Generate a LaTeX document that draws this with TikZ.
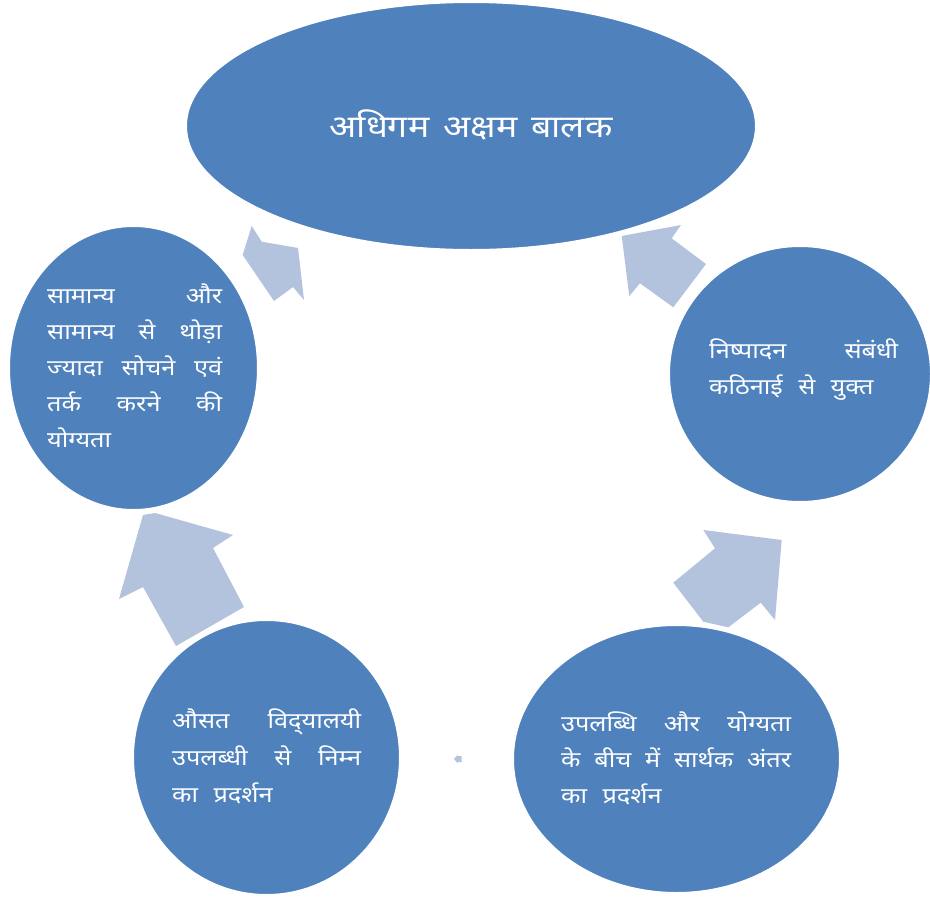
\documentclass[tikz,border=0pt]{standalone}
\usepackage{fontspec}
\newfontfamily\dev[Script=Devanagari, FakeStretch=1.15]{Noto Sans}
\usetikzlibrary{shapes.geometric}
\definecolor{bluefill}{HTML}{4F81BD}
\definecolor{arrowfill}{HTML}{B3C2DD}
\tikzset{
  blob/.style={ellipse, fill=bluefill, draw=white, line width=2pt, inner sep=0pt},
  cyclearrow/.style={fill=arrowfill, draw=none},
  bodytext/.style={text=white, inner sep=0pt, anchor=north west, align=left,
    font={\dev\fontsize{22}{36}\selectfont}},
  titletext/.style={text=white, inner sep=0pt, anchor=base, font={\dev\fontsize{31}{36}\selectfont}}
}
\begin{document}
\begin{tikzpicture}[x=1pt,y=-1pt]
\useasboundingbox (0,0) rectangle (930,900);
% arrows
\fill[cyclearrow] (251.7,226) -- (261.7,241.7) -- (298,248) -- (304,300) -- (293,287) -- (274,301) -- (242.7,255) -- cycle;
\fill[cyclearrow] (621.7,236) -- (681,225) -- (671.7,238.3) -- (706,264) -- (673.3,307.3) -- (640,283.3) -- (629.3,296) -- cycle;
\fill[cyclearrow] (143,515) -- (155,513) -- (233,535) -- (213,548) -- (244,607) -- (176,646) -- (143,587) -- (119,599) -- cycle;
\fill[cyclearrow] (781.7,540) -- (775,620) -- (760.7,602.7) -- (728.3,627.3) -- (703.3,621.7) -- (673.3,582.7) -- (715,548.3) -- (703.3,530) -- cycle;
\fill[cyclearrow] (454,759) -- (457.5,755) -- (457.5,756) -- (461.5,756) -- (461.5,762) -- (457.5,762) -- (457.5,763) -- cycle;
% shapes
\node[blob, minimum width=570pt, minimum height=248pt] (top) at (471,126) {};
\node[blob, minimum width=249pt, minimum height=284pt] (left) at (133.5,368) {};
\node[blob, minimum width=262pt, minimum height=256pt] (right) at (800,374) {};
\node[blob, minimum width=267pt, minimum height=275pt] (bl) at (266.5,757.5) {};
\node[blob, minimum width=327pt, minimum height=268pt] (br) at (676.5,759) {};
% texts
\node[titletext] (ttop) at (471,137) {अधिगम\hspace{0.15em} अक्षम\hspace{0.15em} बालक};
\node[bodytext] (tleft) at (47,284) {\makebox[175pt][s]{सामान्य और}\\
\makebox[175pt][s]{सामान्य से थोड़ा}\\
\makebox[175pt][s]{ज्यादा सोचने एवं}\\
\makebox[175pt][s]{तर्क करने की}\\
योग्यता};
\node[bodytext] (tright) at (709,339) {\makebox[189pt][s]{निष्पादन संबंधी}\\
कठिनाई\hspace{0.4em} से\hspace{0.4em} युक्त};
\node[bodytext, font={\dev\fontsize{22}{37}\selectfont}] (tbl) at (172,709) {\makebox[189pt][s]{औसत विद्^^^^200cयालयी}\\
\makebox[189pt][s]{उपलब्धी से निम्न}\\
का\hspace{0.4em} प्रदर्शन};
\node[bodytext] (tbr) at (561,712) {\makebox[230pt][s]{उपलब्धि और योग्यता}\\
\makebox[230pt][s]{के बीच में सार्थक अंतर}\\
का\hspace{0.4em} प्रदर्शन};
\end{tikzpicture}
\end{document}
